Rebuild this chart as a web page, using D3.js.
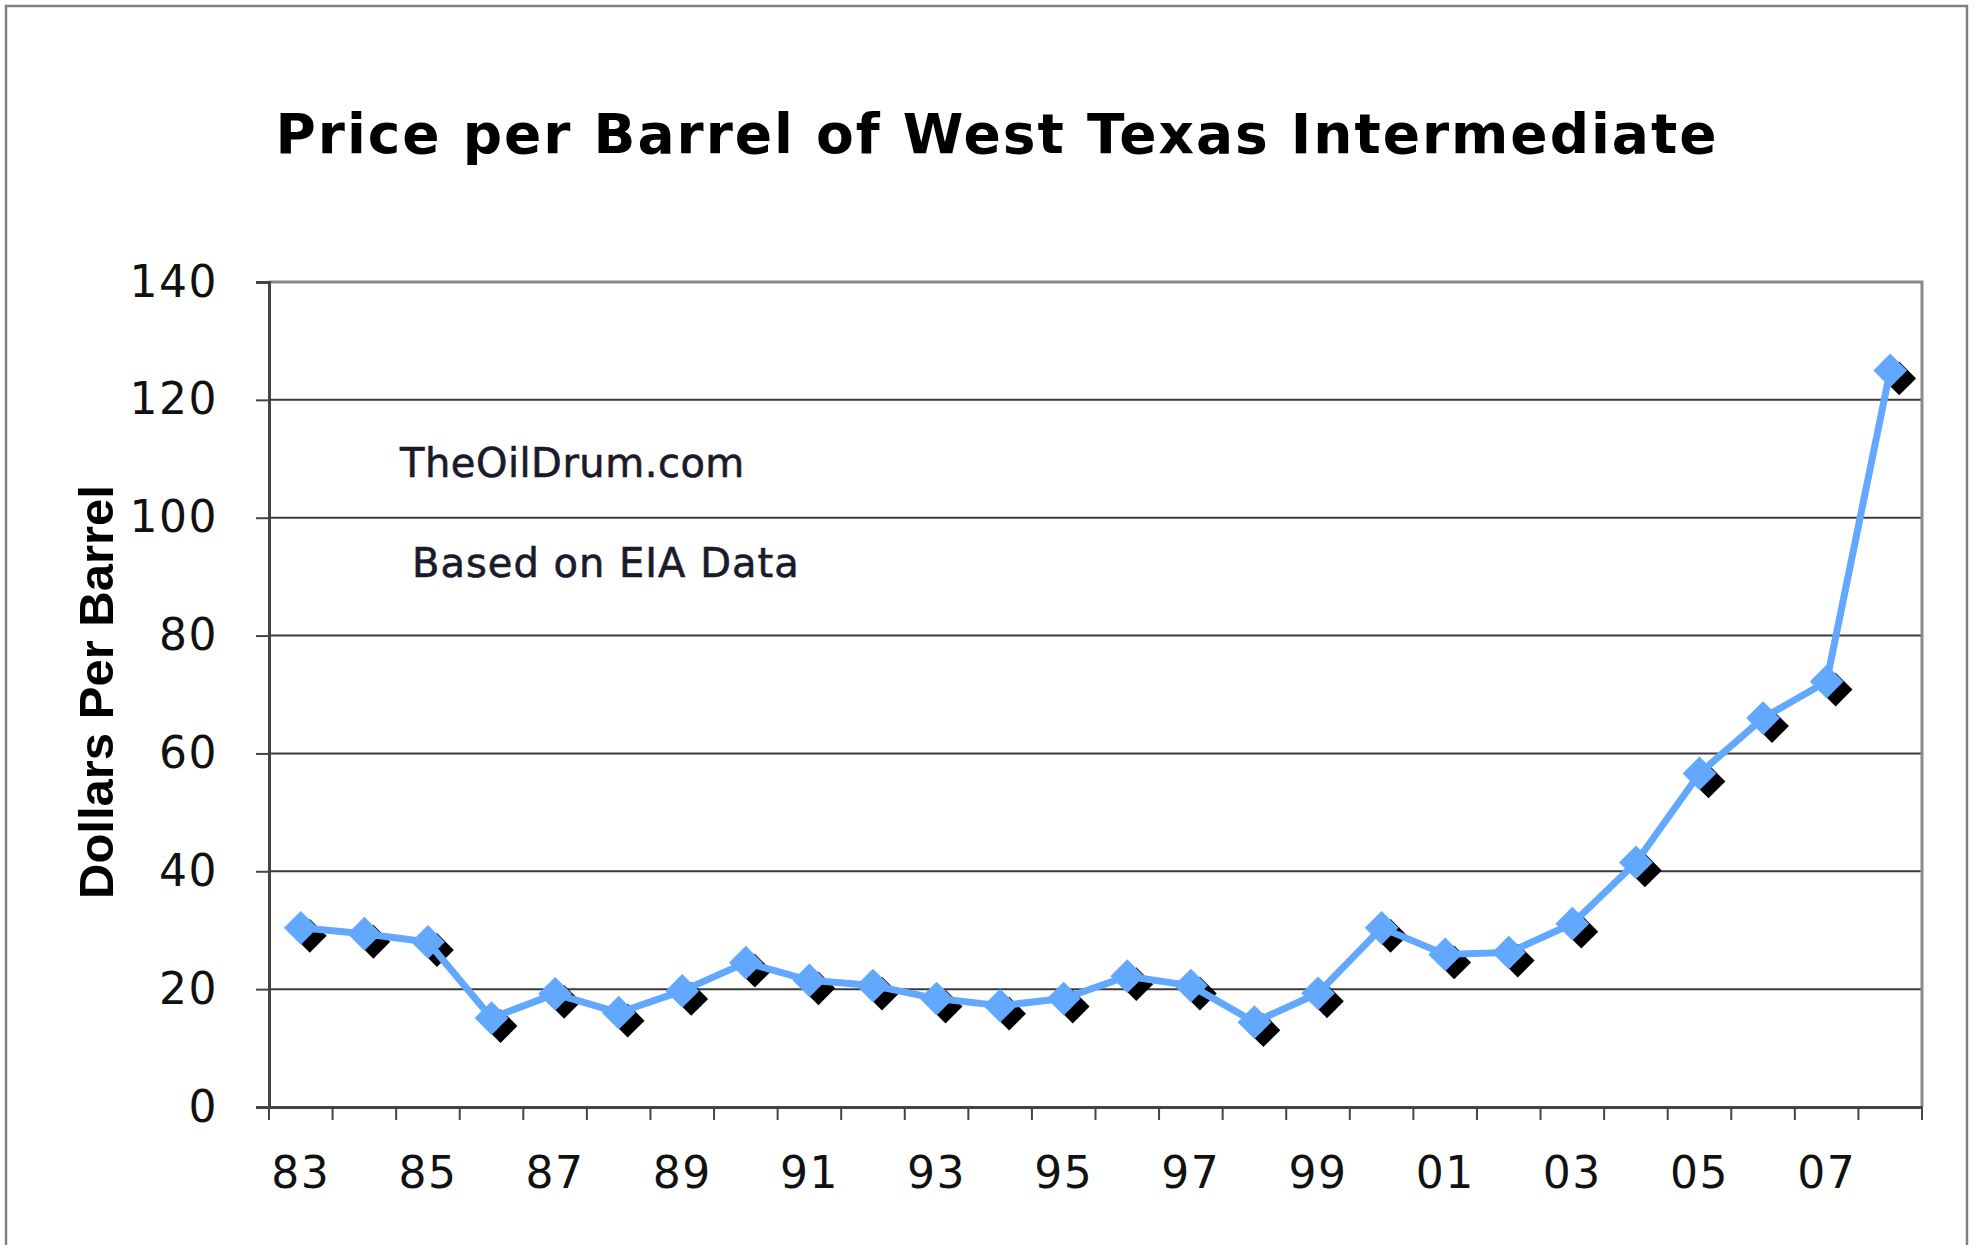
<!DOCTYPE html>
<html>
<head>
<meta charset="utf-8">
<script src="https://cdn.jsdelivr.net/npm/d3@7"></script>
<style>
  body { margin: 0; background: #fff; }
  svg { display: block; }
</style>
</head>
<body>
<svg id="chart"></svg>
<script>
// Data (WTI yearly average, $/barrel)
const years = ["83", "84", "85", "86", "87", "88", "89", "90", "91", "92", "93", "94", "95",
  "96", "97", "98", "99", "00", "01", "02", "03", "04", "05", "06", "07", "08"];
const prices = [30.4, 29.4, 28.0, 15.1, 19.2, 16.0, 19.7, 24.5, 21.5, 20.6, 18.4, 17.2, 18.4,
  22.2, 20.6, 14.4, 19.3, 30.4, 25.9, 26.2, 31.1, 41.5, 56.6, 66.0, 72.2, 125.0];
const yTicks = [0, 20, 40, 60, 80, 100, 120, 140];
const labelYears = years.filter((d, i) => i % 2 === 0);

const titleText = "Price per Barrel of West Texas Intermediate";
const yTitle = "Dollars Per Barrel";
const notes = ["TheOilDrum.com", "Based on EIA Data"];

// Layout
const width = 1979;
const height = 1245;
const plot = { left: 269, right: 1922, top: 282, bottom: 1107 };

const svg = d3.select("#chart").attr("width", width).attr("height", height);

// outer chart frame (runs off the bottom of the picture)
svg.append("rect")
  .attr("x", 6).attr("y", 6)
  .attr("width", 1961).attr("height", 1300)
  .attr("fill", "none").attr("stroke", "#808080").attr("stroke-width", 2.5);

const x = d3.scaleBand().domain(years).range([plot.left, plot.right]).padding(0);
const y = d3.scaleLinear().domain([0, 140]).range([plot.bottom, plot.top]);

// horizontal grid lines
svg.append("g")
  .selectAll("line")
  .data(yTicks.filter(d => d > 0 && d < 140))
  .join("line")
  .attr("x1", plot.left).attr("x2", plot.right)
  .attr("y1", d => y(d)).attr("y2", d => y(d))
  .attr("stroke", "#3a3a3a").attr("stroke-width", 2);

// top and right border of the plot area
svg.append("path")
  .attr("d", `M${plot.left},${y(140)}H${plot.right}V${plot.bottom}`)
  .attr("fill", "none").attr("stroke", "#8a8a8a").attr("stroke-width", 3);

// y axis
const yAxis = svg.append("g")
  .attr("transform", `translate(${plot.left},0)`)
  .call(d3.axisLeft(y).tickValues(yTicks).tickSize(13).tickPadding(38));
yAxis.select(".domain").attr("stroke", "#444").attr("stroke-width", 3);
yAxis.selectAll(".tick line").attr("stroke", "#444").attr("stroke-width", 2);
yAxis.selectAll("text")
  .attr("font-family", "DejaVu Sans").attr("font-size", 44)
  .attr("letter-spacing", 1.5).attr("fill", "#111");

// x axis: labels every other year, ticks on category boundaries
const xAxis = svg.append("g")
  .attr("transform", `translate(0,${plot.bottom})`)
  .call(d3.axisBottom(x).tickValues(labelYears).tickSize(0));
xAxis.select(".domain").attr("stroke", "#444").attr("stroke-width", 3);
xAxis.selectAll("text")
  .attr("dy", null).attr("y", 81)
  .attr("font-family", "DejaVu Sans").attr("font-size", 44)
  .attr("letter-spacing", 1.5).attr("fill", "#111");

const bounds = years.map(d => x(d)).concat([x.range()[1]]);
xAxis.selectAll(".bound")
  .data(bounds)
  .join("line")
  .attr("class", "bound")
  .attr("x1", d => d).attr("x2", d => d)
  .attr("y1", 0).attr("y2", 13)
  .attr("stroke", "#444").attr("stroke-width", 2);

// series
const cx = d => x(d) + x.bandwidth() / 2;
const pts = years.map((d, i) => [cx(d), y(prices[i])]);
const diamond = d3.symbol(d3.symbolSquare, 570);

svg.append("g")
  .selectAll("path")
  .data(pts)
  .join("path")
  .attr("d", diamond)
  .attr("transform", d => `translate(${d[0] + 9},${d[1] + 8}) rotate(45)`)
  .attr("fill", "#000");

svg.append("path")
  .datum(pts)
  .attr("d", d3.line())
  .attr("fill", "none")
  .attr("stroke", "#62a8ff")
  .attr("stroke-width", 7)
  .attr("stroke-linejoin", "round");

svg.append("g")
  .selectAll("path")
  .data(pts)
  .join("path")
  .attr("d", diamond)
  .attr("transform", d => `translate(${d[0]},${d[1]}) rotate(45)`)
  .attr("fill", "#62a8ff");

// title
svg.append("text")
  .attr("x", 996).attr("y", 153)
  .attr("text-anchor", "middle")
  .attr("font-family", "DejaVu Sans").attr("font-weight", "bold")
  .attr("font-size", 55).attr("fill", "#000")
  .attr("textLength", 1441).attr("lengthAdjust", "spacing")
  .text(titleText);

// y axis title
svg.append("text")
  .attr("transform", "translate(113,692) rotate(-90)")
  .attr("text-anchor", "middle")
  .attr("font-family", "Liberation Sans").attr("font-weight", "bold")
  .attr("font-size", 49).attr("fill", "#000")
  .text(yTitle);

// source notes
svg.append("text")
  .attr("x", 400).attr("y", 477)
  .attr("font-family", "DejaVu Sans").attr("font-size", 40)
  .attr("letter-spacing", 0.5)
  .attr("fill", "#1a1a2a").attr("stroke", "#1a1a2a").attr("stroke-width", 0.6)
  .text(notes[0]);
svg.append("text")
  .attr("x", 412).attr("y", 577)
  .attr("font-family", "DejaVu Sans").attr("font-size", 40)
  .attr("letter-spacing", 1)
  .attr("fill", "#1a1a2a").attr("stroke", "#1a1a2a").attr("stroke-width", 0.6)
  .text(notes[1]);
</script>
</body>
</html>
